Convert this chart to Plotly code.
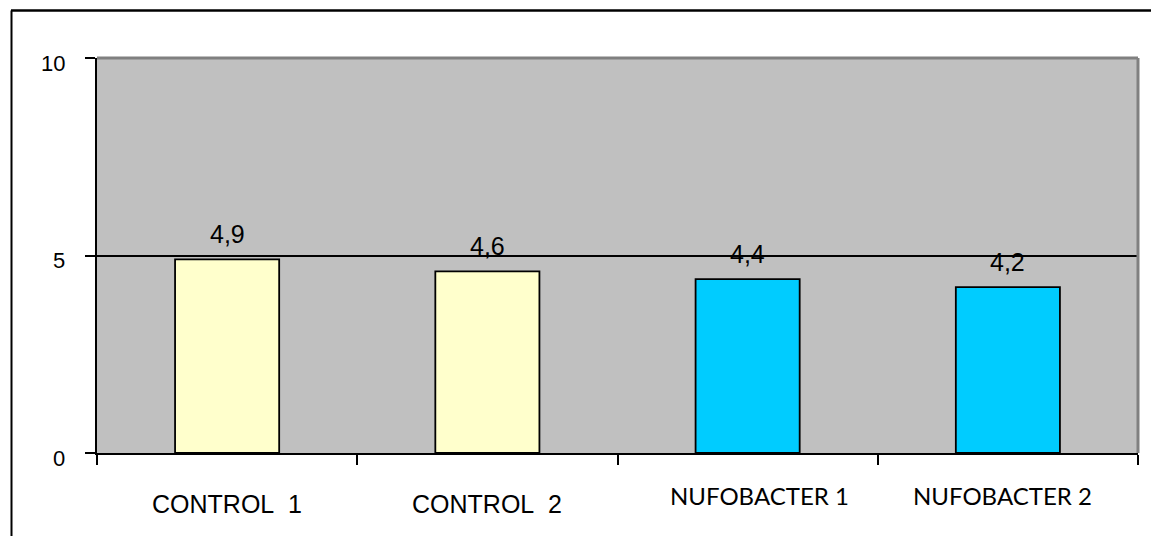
import plotly.graph_objects as go

# ---- data ----
categories = ["CONTROL  1", "CONTROL  2", "NUFOBACTER 1", "NUFOBACTER 2"]
values = [4.9, 4.6, 4.4, 4.2]
bar_colors = ["#FFFFCC", "#FFFFCC", "#00CCFF", "#00CCFF"]
y_ticks = [0, 5, 10]

# ---- geometry (pixels) ----
W, H = 1151, 536
L, R, T, B = 97, 13, 58, 83
pw, ph = W - L - R, H - T - B

def px_x(p):
    return (p - L) / pw

def px_y(p):
    return 1 - (p - T) / ph

ARIAL = "Arial, Liberation Sans, sans-serif"
CALIBRI = "Lato, Carlito, sans-serif"

fig = go.Figure()
fig.add_trace(go.Bar(
    x=categories, y=values,
    marker=dict(color=bar_colors, line=dict(color="black", width=1.8)),
    width=0.4, hoverinfo="skip",
))

annotations = []
# data labels
for c, v in zip(categories, values):
    annotations.append(dict(
        x=c, y=v, xref="x", yref="y", text=f"{v:.1f}".replace(".", ","),
        showarrow=False, yanchor="bottom", yshift=9,
        font=dict(family=ARIAL, size=25, color="black"),
    ))
# category labels
label_shift = {"NUFOBACTER 1": 12, "NUFOBACTER 2": -5}
for c in categories:
    is_cal = c.startswith("NUFO")
    annotations.append(dict(
        x=c, y=0, xref="x", yref="y",
        text=c.replace(" ", "\u00a0"),
        showarrow=False, yanchor="top",
        yshift=-26 if is_cal else -35,
        xshift=label_shift.get(c, 0),
        font=dict(family=CALIBRI if is_cal else ARIAL, size=24 if is_cal else 25, color="black"),
    ))
# y tick labels
for t in y_ticks:
    annotations.append(dict(
        x=0, y=t, xref="paper", yref="y", text=str(t),
        showarrow=False, xanchor="right", yanchor="middle",
        xshift=-30, yshift=-5,
        font=dict(family=ARIAL, size=22, color="black"),
    ))

shapes = [
    # plot-area border top and right (gray)
    dict(type="line", xref="paper", yref="paper", x0=0, x1=1, y0=1, y1=1,
         line=dict(color="#808080", width=3), layer="above"),
    dict(type="line", xref="paper", yref="paper", x0=1, x1=1, y0=0, y1=1,
         line=dict(color="#808080", width=3), layer="above"),
    # outer chart frame (left and top visible)
    dict(type="line", xref="paper", yref="paper", x0=px_x(11), x1=px_x(W + 5),
         y0=px_y(10.5), y1=px_y(10.5), line=dict(color="black", width=2.5)),
    dict(type="line", xref="paper", yref="paper", x0=px_x(11.5), x1=px_x(11.5),
         y0=px_y(10.5), y1=px_y(H + 5), line=dict(color="black", width=2)),
]

fig.update_layout(
    width=W, height=H,
    margin=dict(l=L, r=R, t=T, b=B, pad=0),
    paper_bgcolor="white", plot_bgcolor="#C0C0C0",
    showlegend=False, bargap=0.6,
    annotations=annotations, shapes=shapes,
    xaxis=dict(
        type="category", tickson="boundaries", ticks="outside", ticklen=10,
        tickwidth=1.5, tickcolor="black", showticklabels=False,
        showline=True, linecolor="black", linewidth=2, showgrid=False,
        zeroline=False, fixedrange=True,
    ),
    yaxis=dict(
        range=[0, 10], tickvals=y_ticks, ticks="outside", ticklen=10,
        tickwidth=1.5, tickcolor="black", showticklabels=False,
        showline=True, linecolor="black", linewidth=2,
        showgrid=True, gridcolor="black", gridwidth=1.5,
        zeroline=False, fixedrange=True,
    ),
)

fig.write_html(
    "out.html",
    config={"displayModeBar": False},
    post_script="document.body.style.margin='0';document.body.style.overflow='hidden';",
)
